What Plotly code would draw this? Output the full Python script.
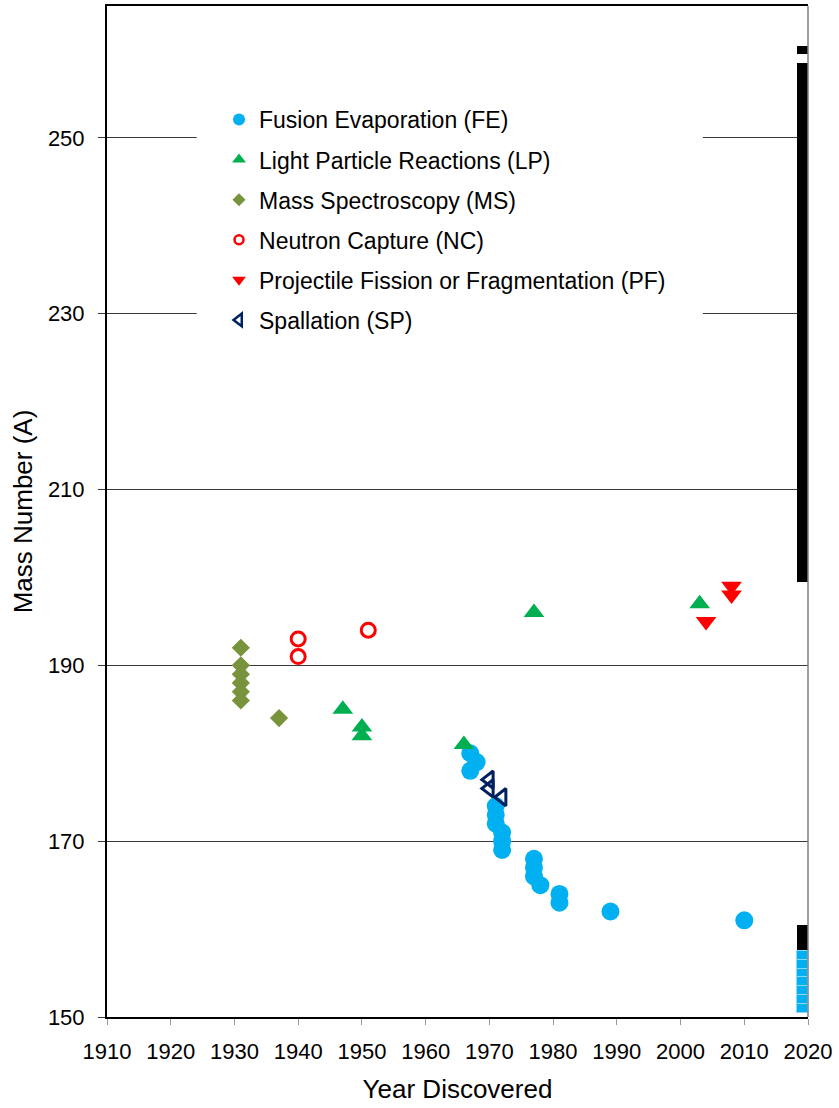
import plotly.graph_objects as go

# discovery year / mass number for each production method
fe_year = [1967, 1967, 1968, 1971, 1971, 1971, 1972, 1972, 1972, 1977, 1977, 1977, 1978, 1981, 1981, 1989, 2010]
fe_mass = [180, 178, 179, 174, 173, 172, 171, 170, 169, 168, 167, 166, 165, 164, 163, 162, 161]

lp_year = [1947, 1950, 1950, 1966, 1977, 2003]
lp_mass = [185, 183, 182, 181, 196, 197]

ms_year = [1931, 1931, 1931, 1931, 1931, 1931, 1937]
ms_mass = [192, 190, 189, 188, 187, 186, 184]

nc_year = [1940, 1940, 1951]
nc_mass = [193, 191, 194]

pf_year = [2004, 2008, 2008]
pf_mass = [195, 199, 198]

sp_year = [1970, 1970, 1972]
sp_mass = [177, 176, 175]

# column of isotopes at the right edge
col_year = 2019.1
blue_mass = [151, 152, 153, 154, 155, 156, 157]
black_mass = [158, 159, 160,
              200, 201, 202, 203, 204, 205, 206, 207, 208, 209, 210, 211, 212, 213, 214,
              215, 216, 217, 218, 219, 220, 221, 222, 223, 224, 225, 226, 227, 228, 229,
              230, 231, 232, 233, 234, 235, 236, 237, 238, 239, 240, 241, 242, 243, 244,
              245, 246, 247, 248, 249, 250, 251, 252, 253, 254, 255, 256, 257, 258,
              260]

FONT = "Arial, Liberation Sans, sans-serif"

series = [
    ("Fusion Evaporation (FE)", fe_year, fe_mass, dict(symbol="circle", color="#00B0F0", size=18), dict(size=12)),
    ("Light Particle Reactions (LP)", lp_year, lp_mass, dict(symbol="triangle-up", color="#00B050", size=18), dict(size=12)),
    ("Mass Spectroscopy (MS)", ms_year, ms_mass, dict(symbol="diamond", color="#77933C", size=14), dict(size=10)),
    ("Neutron Capture (NC)", nc_year, nc_mass,
     dict(symbol="circle-open", color="#FF0000", size=14, line=dict(width=3, color="#FF0000")),
     dict(size=9, line=dict(width=2.5, color="#FF0000"))),
    ("Projectile Fission or Fragmentation (PF)", pf_year, pf_mass, dict(symbol="triangle-down", color="#FF0000", size=18), dict(size=12)),
    ("Spallation (SP)", sp_year, sp_mass,
     dict(symbol="triangle-left-open", color="#002060", size=15, line=dict(width=3, color="#002060")),
     dict(size=11, line=dict(width=2.5, color="#002060"))),
]

fig = go.Figure()

fig.add_trace(go.Bar(x=[col_year] * len(black_mass), y=[1] * len(black_mass),
                     base=[m - 0.5 for m in black_mass], width=1.8,
                     marker=dict(color="#000000", line=dict(width=0)), showlegend=False))
fig.add_trace(go.Bar(x=[col_year] * len(blue_mass), y=[1] * len(blue_mass),
                     base=[m - 0.5 for m in blue_mass], width=1.8,
                     marker=dict(color="#00B0F0", line=dict(width=1, color="#8FD6F5")), showlegend=False))

for name, xs, ys, mk, lmk in series:
    fig.add_trace(go.Scatter(x=xs, y=ys, mode="markers", marker=mk, showlegend=False, name=name))
for name, xs, ys, mk, lmk in series:
    legmk = dict(mk)
    legmk.update(lmk)
    fig.add_trace(go.Scatter(x=[None], y=[None], mode="markers", marker=legmk,
                             name=name, legendgroup=name, showlegend=True))

fig.update_layout(
    width=839, height=1108,
    margin=dict(l=107, r=31, t=4, b=91),
    paper_bgcolor="white", plot_bgcolor="white",
    barmode="overlay", bargap=0,
    font=dict(family=FONT, color="#000000", size=22),
    legend=dict(x=0.1598, y=0.909, xanchor="left", yanchor="top",
                bgcolor="rgba(0,0,0,0)", borderwidth=0, tracegroupgap=7.2,
                font=dict(size=23), itemsizing="trace"),
    shapes=[
        # white backing of the legend, hides the gridlines behind it
        dict(type="rect", xref="paper", yref="paper", x0=0.128, x1=0.850, y0=0.665, y1=0.92,
             fillcolor="white", line=dict(width=0), layer="above"),
        dict(type="line", xref="paper", yref="paper", x0=1, x1=1, y0=0, y1=1,
             line=dict(color="#7F7F7F", width=1.5)),
    ],
)

fig.update_xaxes(
    range=[1910, 2020], tick0=1910, dtick=10, showgrid=False,
    showline=True, linecolor="#000000", linewidth=2, mirror=True,
    ticks="outside", ticklen=6, tickcolor="#999999", tickwidth=1,
    tickfont=dict(size=22), ticklabelstandoff=8,
    title=dict(text="Year Discovered", font=dict(size=26), standoff=16),
    zeroline=False,
)
fig.update_yaxes(
    range=[150, 265], tick0=150, dtick=20,
    showgrid=True, gridcolor="#3A3A3A", gridwidth=1,
    showline=True, linecolor="#000000", linewidth=2,
    ticks="outside", ticklen=7, tickcolor="#3A3A3A", tickwidth=1,
    tickfont=dict(size=22), ticklabelstandoff=9,
    title=dict(text="Mass Number (A)", font=dict(size=26), standoff=8),
    zeroline=False,
)

fig.write_html("out.html", config={"displayModeBar": False},
               post_script="document.body.style.margin='0';")
